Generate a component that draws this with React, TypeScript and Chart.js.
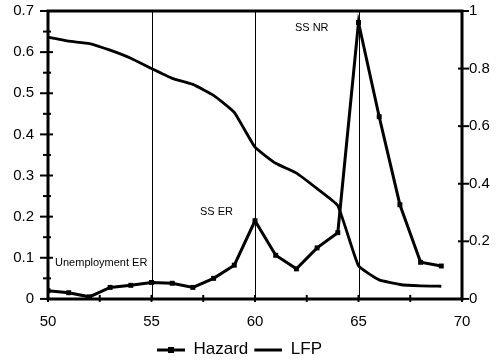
import React, { useEffect, useRef } from "react";
import { Chart, registerables } from "chart.js";

Chart.register(...registerables);

const years = [50, 51, 52, 53, 54, 55, 56, 57, 58, 59, 60, 61, 62, 63, 64, 65, 66, 67, 68, 69];
const hazard = [0.02, 0.015, 0.005, 0.028, 0.033, 0.04, 0.038, 0.028, 0.05, 0.082, 0.19, 0.106, 0.073, 0.124, 0.161, 0.672, 0.443, 0.229, 0.089, 0.08];
const lfp = [0.909, 0.895, 0.887, 0.864, 0.836, 0.8, 0.766, 0.745, 0.707, 0.648, 0.527, 0.471, 0.437, 0.383, 0.324, 0.115, 0.066, 0.05, 0.045, 0.044];
const refLines = [55, 60, 65];
const noteTexts = ["Unemployment ER", "SS ER", "SS NR"];
const noteX = [50.34, 57.34, 61.93];
const noteY = [0.088, 0.212, 0.659];
const xTicks = [50, 55, 60, 65, 70];
const leftTicks = [0, 0.1, 0.2, 0.3, 0.4, 0.5, 0.6, 0.7];
const rightTicks = [0, 0.2, 0.4, 0.6, 0.8, 1];

const FONT = "'Liberation Sans', Arial, Helvetica, sans-serif";

function makeHazardSymbol(): HTMLCanvasElement {
  const c = document.createElement("canvas");
  c.width = 32;
  c.height = 6;
  const g = c.getContext("2d")!;
  g.fillStyle = "#000";
  g.fillRect(4, 2, 28, 3);
  g.fillRect(15, 0, 6, 6);
  return c;
}
function makeLineSymbol(): HTMLCanvasElement {
  const c = document.createElement("canvas");
  c.width = 32;
  c.height = 6;
  const g = c.getContext("2d")!;
  g.fillStyle = "#000";
  g.fillRect(4, 2, 28, 3);
  return c;
}

const legendShift = {
  id: "legendShift",
  afterLayout(chart: any) {
    if (chart.legend) {
      chart.legend.left -= 24;
      chart.legend.top += 7;
      chart.legend.bottom += 7;
    }
  },
};

const framePlugin = {
  id: "frame",
  afterDatasetsDraw(chart: any) {
    const { ctx, chartArea, scales } = chart;
    const x = scales.x;
    const yl = scales.y;
    const yr = scales.y1;
    const { left, right, top, bottom } = chartArea;
    ctx.save();
    ctx.strokeStyle = "#000";
    ctx.lineWidth = 1;
    refLines.forEach((v) => {
      const px = Math.round(x.getPixelForValue(v)) + 0.5;
      ctx.beginPath();
      ctx.moveTo(px, top);
      ctx.lineTo(px, bottom);
      ctx.stroke();
    });
    ctx.lineWidth = 3;
    ctx.beginPath();
    ctx.moveTo(left, top);
    ctx.lineTo(right, top);
    ctx.lineTo(right, bottom);
    ctx.lineTo(left, bottom);
    ctx.closePath();
    ctx.stroke();
    ctx.lineWidth = 2;
    for (let v = 0; v <= 0.7001; v += 0.05) {
      const py = yl.getPixelForValue(v);
      const major = Math.abs(v * 10 - Math.round(v * 10)) < 0.01;
      ctx.beginPath();
      ctx.moveTo(left - (major ? 8 : 5), py);
      ctx.lineTo(left + (major ? 5 : 3), py);
      ctx.stroke();
    }
    rightTicks.forEach((v) => {
      const py = yr.getPixelForValue(v);
      ctx.beginPath();
      ctx.moveTo(right - 4, py);
      ctx.lineTo(right + 7, py);
      ctx.stroke();
    });
    for (let v = 50; v <= 70; v += 2.5) {
      const px = x.getPixelForValue(v);
      ctx.beginPath();
      ctx.moveTo(px, bottom - 4);
      ctx.lineTo(px, bottom + 3);
      ctx.stroke();
    }
    ctx.fillStyle = "#000";
    ctx.font = `11px ${FONT}`;
    ctx.textBaseline = "middle";
    ctx.textAlign = "left";
    noteTexts.forEach((t, i) => {
      ctx.fillText(t, x.getPixelForValue(noteX[i]), yl.getPixelForValue(noteY[i]));
    });
    ctx.restore();
  },
};

export default function App() {
  const ref = useRef<HTMLCanvasElement | null>(null);
  useEffect(() => {
    if (!ref.current) return;
    const hazSym = makeHazardSymbol();
    const lineSym = makeLineSymbol();
    const chart = new Chart(ref.current, {
      type: "line",
      data: {
        datasets: [
          {
            label: "Hazard",
            data: years.map((y, i) => ({ x: y, y: hazard[i] })),
            borderColor: "#000",
            backgroundColor: "#000",
            borderWidth: 3,
            pointStyle: "rect",
            pointRadius: 3.5,
            pointBorderWidth: 0,
            yAxisID: "y",
            tension: 0,
          } as any,
          {
            label: "LFP",
            data: years.map((y, i) => ({ x: y, y: lfp[i] })),
            borderColor: "#000",
            backgroundColor: "#000",
            borderWidth: 2.8,
            pointRadius: 0,
            yAxisID: "y1",
            tension: 0.12,
          } as any,
        ],
      },
      options: {
        responsive: false,
        animation: false,
        devicePixelRatio: 1,
        layout: { padding: { top: 0, left: 0, right: 0, bottom: 0 } },
        plugins: {
          tooltip: { enabled: false },
          legend: {
            position: "bottom",
            labels: {
              color: "#000",
              font: { family: FONT, size: 17 },
              usePointStyle: true,
              pointStyleWidth: 32,
              padding: 2,
              generateLabels: () => [
                { text: "Hazard", pointStyle: hazSym, fillStyle: "#000", strokeStyle: "#000", lineWidth: 0, datasetIndex: 0, hidden: false },
                { text: "LFP", pointStyle: lineSym, fillStyle: "#000", strokeStyle: "#000", lineWidth: 0, datasetIndex: 1, hidden: false },
              ] as any,
            },
          },
        },
        scales: {
          x: {
            type: "linear",
            min: 50,
            max: 70,
            afterBuildTicks: (s: any) => {
              s.ticks = xTicks.map((v) => ({ value: v }));
            },
            afterFit: (s: any) => {
              s.height = 33.1;
            },
            grid: { display: false, drawTicks: false },
            border: { display: false },
            ticks: { color: "#000", font: { family: FONT, size: 15 }, padding: 13.5, maxRotation: 0 },
          },
          y: {
            type: "linear",
            position: "left",
            min: 0,
            max: 0.7,
            afterBuildTicks: (s: any) => {
              s.ticks = leftTicks.map((v) => ({ value: v }));
            },
            afterFit: (s: any) => {
              s.width = 48;
              s.paddingTop = 11;
              s.paddingBottom = 0;
            },
            grid: { display: false, drawTicks: false },
            border: { display: false },
            ticks: { color: "#000", font: { family: FONT, size: 15 }, padding: 14, callback: (v: any) => String(Math.round(v * 10) / 10) },
          },
          y1: {
            type: "linear",
            position: "right",
            min: 0,
            max: 1,
            afterBuildTicks: (s: any) => {
              s.ticks = rightTicks.map((v) => ({ value: v }));
            },
            afterFit: (s: any) => {
              s.width = 37;
              s.paddingTop = 11;
              s.paddingBottom = 0;
            },
            grid: { display: false, drawTicks: false },
            border: { display: false },
            ticks: { color: "#000", font: { family: FONT, size: 15 }, padding: 7, callback: (v: any) => String(Math.round(v * 10) / 10) },
          },
        },
      },
      plugins: [framePlugin, legendShift],
    });
    return () => chart.destroy();
  }, []);
  return (
    <div style={{ position: "absolute", left: 0, top: 0, width: 499, height: 361, background: "#fff" }}>
      <canvas ref={ref} width={499} height={361} style={{ width: 499, height: 361 }} />
    </div>
  );
}
